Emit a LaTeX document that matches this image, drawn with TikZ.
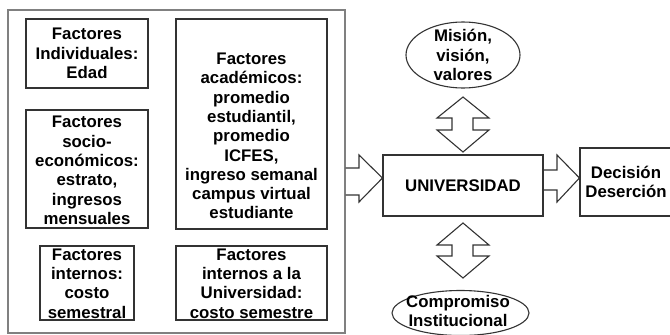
\documentclass[tikz,border=0pt]{standalone}
\usepackage{fontspec}
\setmainfont{Liberation Sans}
\usetikzlibrary{shapes.geometric}
\tikzset{
  box/.style={draw=black!80, line width=1.1pt, inner sep=0pt, align=center},
  txt/.style={font=\bfseries\fontsize{16.8}{19.3}\selectfont, align=center, inner sep=0pt},
  oval/.style={draw=black!80, line width=1.1pt, ellipse, inner sep=0pt, align=center},
  blk/.style={draw=black!80, line width=1.1pt, line join=miter},
  frame/.style={draw=black!50, line width=1.1pt}
}
\begin{document}
\begin{tikzpicture}[x=1pt,y=-1pt]
\useasboundingbox (0,0) rectangle (670,335);
% outer frame
\node[frame, minimum width=337pt, minimum height=323pt, inner sep=0pt] (fr) at (176.5,171.5) {};
% left boxes
\node[box, minimum width=122pt, minimum height=69pt] (b1) at (87,53.5) {};
\node[txt] at (b1.center) {Factores\\Individuales:\\Edad};
\node[box, minimum width=122pt, minimum height=118pt] (b2) at (87,169) {};
\node[txt] at (87,170.5) {Factores\\socio-\\económicos:\\estrato,\\ingresos\\mensuales};
\node[box, minimum width=94pt, minimum height=74pt] (b3) at (87,283) {};
\node[txt] at (87,283.5) {Factores\\internos:\\costo\\semestral};
\node[box, minimum width=151pt, minimum height=210pt] (b4) at (251.5,124) {};
\node[txt] at (251.5,136) {Factores\\académicos:\\promedio\\estudiantil,\\promedio\\ICFES,\\ingreso semanal\\campus virtual\\estudiante};
\node[box, minimum width=151pt, minimum height=74pt] (b5) at (251.5,283) {};
\node[txt] at (251.5,283.5) {Factores\\internos a la\\Universidad:\\costo semestre};
% right side
\node[oval, minimum width=114pt, minimum height=66pt] (mis) at (463,55) {};
\node[txt] at (mis.center) {Misión,\\visión,\\valores};
\node[box, minimum width=160pt, minimum height=61pt] (univ) at (463,185.5) {};
\node[txt] at (univ.center) {UNIVERSIDAD};
\node[box, minimum width=100pt, minimum height=68pt] (dec) at (630,182) {};
\node[txt] at (626,182) {Decisión\\Deserción};
\node[oval, minimum width=137pt, minimum height=45pt] (com) at (460.5,313) {};
\node[txt] at (458,311) {Compromiso\\Institucional};
% double arrows
\draw[blk] (463,97) -- (489,118) -- (473,118) -- (473,130) -- (489,130) -- (463,152)
  -- (437,130) -- (452,130) -- (452,118) -- (437,118) -- cycle;
\draw[blk] (463,223) -- (489,245) -- (473,245) -- (473,256) -- (489,256) -- (463,278)
  -- (437,256) -- (452,256) -- (452,245) -- (437,245) -- cycle;
% block arrows
\draw[blk] (fr.east |- 0,168) -- (359,168) -- (359,155) -- (univ.west |- 0,178) -- (359,202) -- (359,195) -- (fr.east |- 0,195);
\draw[blk] (univ.east |- 0,170) -- (557,170) -- (557,155) -- (dec.west |- 0,178) -- (557,202) -- (557,190) -- (univ.east |- 0,190);
\end{tikzpicture}
\end{document}
